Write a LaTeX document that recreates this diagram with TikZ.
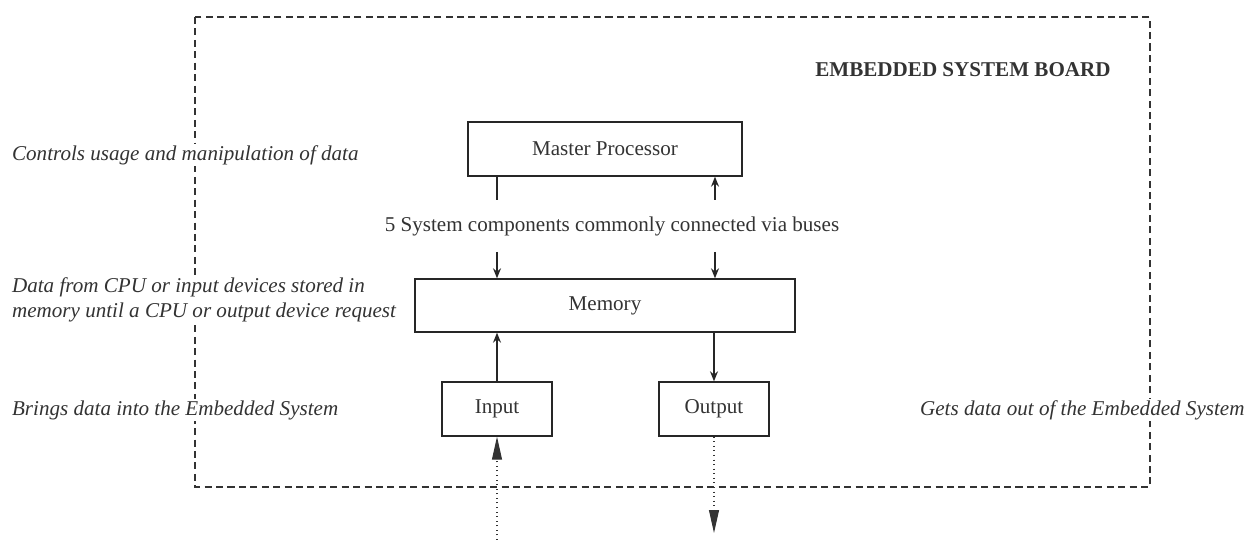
\documentclass[tikz,border=0pt]{standalone}
\usepackage{fontspec}
\setmainfont{Liberation Serif}
\usetikzlibrary{arrows.meta}
\begin{document}
\begin{tikzpicture}[x=0.02cm,y=-0.02cm,
  txt/.style={text=black!80, font=\fontsize{12}{14.2}\selectfont, inner sep=1pt},
  note/.style={txt, font=\fontsize{12}{14.2}\selectfont\itshape, anchor=west, fill=white, align=left},
  blk/.style={draw=black!85, line width=0.8pt, txt, minimum width=#1, minimum height=1.08cm},
  bus/.style={draw=black!85, line width=0.7pt, -{Stealth[length=2mm,width=1.6mm]}},
  ext/.style={draw=black!80, dotted, line width=0.6pt, -{Triangle[length=4.6mm,width=2mm]}},
  frame/.style={draw=black!80, line width=0.8pt, dash pattern=on 4pt off 2.5pt}]
\useasboundingbox (0,0) rectangle (1248,540);
\draw[frame] (195,17) rectangle (1150,487);
\node[txt, font=\fontsize{12}{14.2}\selectfont\bfseries] (title) at (963,70) {EMBEDDED SYSTEM BOARD};
\node[blk=5.48cm] (mp) at (605,149) {Master Processor};
\node[blk=7.6cm, minimum height=1.06cm] (mem) at (605,305.5) {Memory};
\node[blk=2.2cm] (inp) at (497,409) {Input};
\node[blk=2.2cm] (out) at (714,409) {Output};
\node[txt] (busl) at (612,226) {5 System components commonly connected via buses};
\coordinate (a1) at (497,200);
\coordinate (a2) at (715,200);
\coordinate (b1) at (497,252);
\coordinate (b2) at (715,252);
\draw[draw=black!85, line width=0.7pt] (a1 |- mp.south) -- (a1);
\draw[bus] (a2) -- (a2 |- mp.south);
\draw[bus] (b1) -- (b1 |- mem.north);
\draw[bus] (b2) -- (b2 |- mem.north);
\draw[bus] (inp.north) -- (inp.north |- mem.south);
\draw[bus] (out.north |- mem.south) -- (out.north);
\coordinate (inext) at (497,540);
\coordinate (outext) at (714,533);
\draw[ext] (inext) -- (inp.south);
\draw[ext] (out.south) -- (outext);
\node[note] (n1) at (10,155) {Controls usage and manipulation of data};
\node[note] (n2) at (10,300) {Data from CPU or input devices stored in\\memory until a CPU or output device request};
\node[note] (n3) at (10,410) {Brings data into the Embedded System};
\node[note] (n4) at (918,410) {Gets data out of the Embedded System};
\end{tikzpicture}
\end{document}
